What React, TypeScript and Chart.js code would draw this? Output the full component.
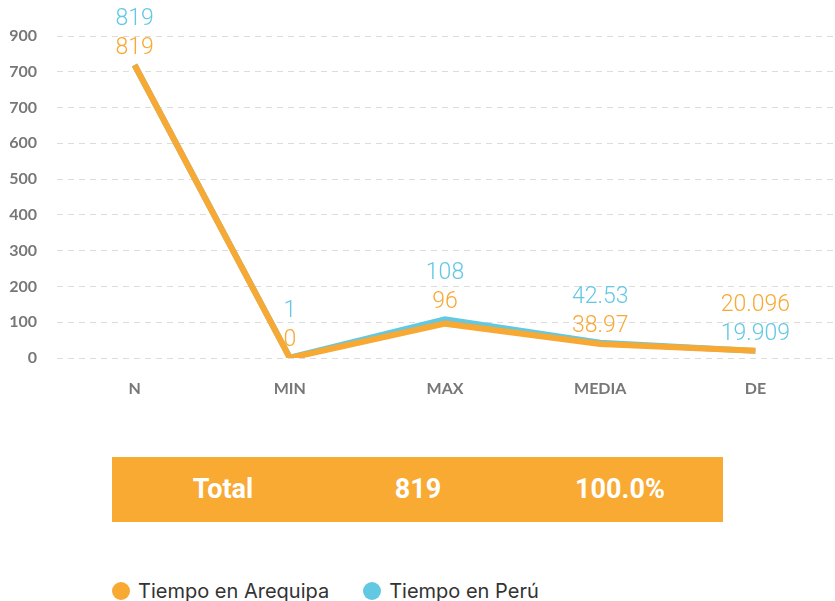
import React, { useEffect, useRef } from "react";
import { Chart, registerables } from "chart.js";

Chart.register(...registerables);

const categories = ["N", "MIN", "MAX", "MEDIA", "DE"];
const arequipaValues = [819, 0, 96, 38.97, 20.096];
const peruValues = [819, 1, 108, 42.53, 19.909];
const yTickLabels = ["0", "100", "200", "300", "400", "500", "600", "700", "700", "900"];
const seriesNames = ["Tiempo en Arequipa", "Tiempo en Perú"];
const totalRow = ["Total", "819", "100.0%"];

const ORANGE = "#F7A933";
const CYAN = "#63C8E2";

const valueLabelPlugin = {
  id: "valueLabels",
  afterDatasetsDraw(chart: any) {
    const ctx = chart.ctx;
    const mA = chart.getDatasetMeta(0);
    const mB = chart.getDatasetMeta(1);
    ctx.save();
    ctx.font = "300 23px Roboto";
    ctx.textAlign = "center";
    ctx.textBaseline = "middle";
    for (let i = 0; i < categories.length; i++) {
      const pA = mA.data[i];
      const pB = mB.data[i];
      const vA = arequipaValues[i];
      const vB = peruValues[i];
      const x = (pA.x + pB.x) / 2;
      const lowerY = Math.min(pA.y, pB.y) - 17;
      const upperY = lowerY - 29;
      const peruTop = vB >= vA;
      ctx.fillStyle = CYAN;
      ctx.fillText(String(vB), x, peruTop ? upperY : lowerY);
      ctx.fillStyle = ORANGE;
      ctx.fillText(String(vA), x, peruTop ? lowerY : upperY);
    }
    ctx.restore();
  },
};

export default function App() {
  const ref = useRef<HTMLCanvasElement>(null);

  useEffect(() => {
    if (!ref.current) return;
    const chart = new Chart(ref.current, {
      type: "line",
      data: {
        labels: categories,
        datasets: [
          {
            label: seriesNames[0],
            data: arequipaValues,
            borderColor: ORANGE,
            backgroundColor: ORANGE,
            borderWidth: 6,
            pointRadius: 0,
            tension: 0,
            fill: false,
          },
          {
            label: seriesNames[1],
            data: peruValues,
            borderColor: CYAN,
            backgroundColor: CYAN,
            borderWidth: 6,
            pointRadius: 0,
            tension: 0,
            fill: false,
          },
        ],
      },
      options: {
        responsive: false,
        animation: false,
        layout: { padding: { left: 9, right: 2, top: 36, bottom: 0 } },
        plugins: {
          legend: { display: false },
          tooltip: { enabled: false },
        },
        scales: {
          x: {
            offset: true,
            grid: { display: false, drawTicks: false },
            border: { display: false },
            afterFit: (s: any) => {
              s.height = 42;
            },
            ticks: {
              padding: 21,
              color: "#777777",
              font: { family: "Lato", weight: 700, size: 16 },
              maxRotation: 0,
            },
          },
          y: {
            min: 0,
            max: 900,
            grid: { color: "#dcdcdc", lineWidth: 1, drawTicks: false },
            border: { display: false, dash: [6, 5] },
            afterFit: (s: any) => {
              s.width = 48;
            },
            ticks: {
              stepSize: 100,
              padding: 20,
              color: "#777777",
              font: { family: "Lato", weight: 700, size: 16 },
              callback: (_v: any, i: number) => yTickLabels[i],
            },
          },
        },
      },
      plugins: [valueLabelPlugin],
    });
    return () => chart.destroy();
  }, []);

  const totalCenters = [223, 418, 620];

  return (
    <div style={{ position: "absolute", left: 0, top: 0, width: 835, height: 601, background: "#fff", overflow: "hidden" }}>
      <canvas ref={ref} width={835} height={400} style={{ position: "absolute", left: 0, top: 0, width: 835, height: 400 }} />
      <div style={{ position: "absolute", left: 112, top: 457, width: 611, height: 65, background: "#F8AA33" }}>
        {totalRow.map((t, i) => (
          <div
            key={i}
            style={{
              position: "absolute",
              left: totalCenters[i] - 112 - 100,
              width: 200,
              top: 0,
              height: 65,
              lineHeight: "65px",
              textAlign: "center",
              color: "#fff",
              fontFamily: "Roboto",
              fontWeight: 700,
              fontSize: 27,
            }}
          >
            {t}
          </div>
        ))}
      </div>
      <div style={{ position: "absolute", left: 112, top: 577, height: 27, display: "flex", alignItems: "center", fontFamily: "Inter", fontSize: 20, color: "#333" }}>
        {seriesNames.map((n, i) => (
          <div key={i} style={{ display: "flex", alignItems: "center", marginRight: 34 }}>
            <span style={{ display: "inline-block", width: 18, height: 18, borderRadius: 9, background: i === 0 ? ORANGE : CYAN, marginRight: 8 }} />
            <span>{n}</span>
          </div>
        ))}
      </div>
    </div>
  );
}
